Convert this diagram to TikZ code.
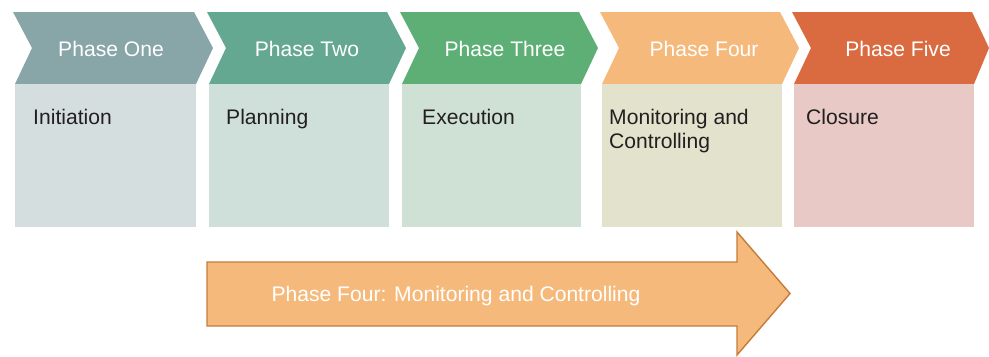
\documentclass[tikz,border=0pt]{standalone}
\usepackage{fontspec}
\setmainfont{Liberation Sans}
\usetikzlibrary{positioning}

\definecolor{headone}{RGB}{136,165,168}
\definecolor{headtwo}{RGB}{100,168,146}
\definecolor{headthree}{RGB}{93,175,118}
\definecolor{headfour}{RGB}{245,186,123}
\definecolor{headfive}{RGB}{218,106,64}
\definecolor{bodyone}{RGB}{212,222,223}
\definecolor{bodytwo}{RGB}{207,224,218}
\definecolor{bodythree}{RGB}{207,225,212}
\definecolor{bodyfour}{RGB}{227,226,205}
\definecolor{bodyfive}{RGB}{232,201,197}
\definecolor{arrowline}{RGB}{196,124,58}
\definecolor{textdark}{RGB}{35,31,32}

\begin{document}
\begin{tikzpicture}[x=0.03cm, y=-0.03cm,
            headtext/.style={text=white, inner sep=0pt, font=\fontsize{18}{21}\selectfont},
            bodytext/.style={text=textdark, inner sep=0pt, anchor=base west, align=left, font=\fontsize{18}{20.5}\selectfont},
            arrowtext/.style={text=white, inner sep=0pt, font=\fontsize{18}{21}\selectfont},
            bigarrow/.style={fill=headfour, draw=arrowline, line width=1.2pt, line join=miter}
        ]
        \useasboundingbox (0,0) rectangle (989,356);

        % Phasen (Kopf)
        \fill[headone] (13,12) -- (32,48) -- (15,84) -- (196,84) -- (213,48) -- (194,12) -- cycle;
        \fill[headtwo] (207,12) -- (226,48) -- (209,84) -- (389,84) -- (406,48) -- (387,12) -- cycle;
        \fill[headthree] (400,12) -- (419,48) -- (402,84) -- (581,84) -- (598,48) -- (579,12) -- cycle;
        \fill[headfour] (600,12) -- (619,48) -- (602,84) -- (782,84) -- (799,48) -- (780,12) -- cycle;
        \fill[headfive] (792,12) -- (811,48) -- (794,84) -- (974,84) -- (989,48) -- (972,12) -- cycle;

        % Phasen (Inhalt)
        \fill[bodyone] (15,84) rectangle (196,227);
        \fill[bodytwo] (209,84) rectangle (389,227);
        \fill[bodythree] (402,84) rectangle (581,227);
        \fill[bodyfour] (602,84) rectangle (782,227);
        \fill[bodyfive] (794,84) rectangle (974,227);

        % Texte
        \node[headtext] (h1) at (111,49) {Phase One};
        \node[headtext] (h2) at (307,49) {Phase Two};
        \node[headtext] (h3) at (505,49) {Phase Three};
        \node[headtext] (h4) at (704,49) {Phase Four};
        \node[headtext] (h5) at (898,49) {Phase Five};

        \node[bodytext] (t1) at (33,124) {Initiation};
        \node[bodytext] (t2) at (226,124) {Planning};
        \node[bodytext] (t3) at (422,124) {Execution};
        \node[bodytext, anchor=north west] (t4) at (609,109) {Monitoring and\\Controlling};
        \node[bodytext] (t5) at (806,124) {Closure};

        % Pfeil
        \draw[bigarrow] (207,262) -- (737,262) -- (737,232) -- (790,293.5) -- (737,355) -- (737,326) -- (207,326) -- cycle;
        \node[arrowtext] (a) at (456,296) {Phase Four: Monitoring and Controlling};

    \end{tikzpicture}
\end{document}
